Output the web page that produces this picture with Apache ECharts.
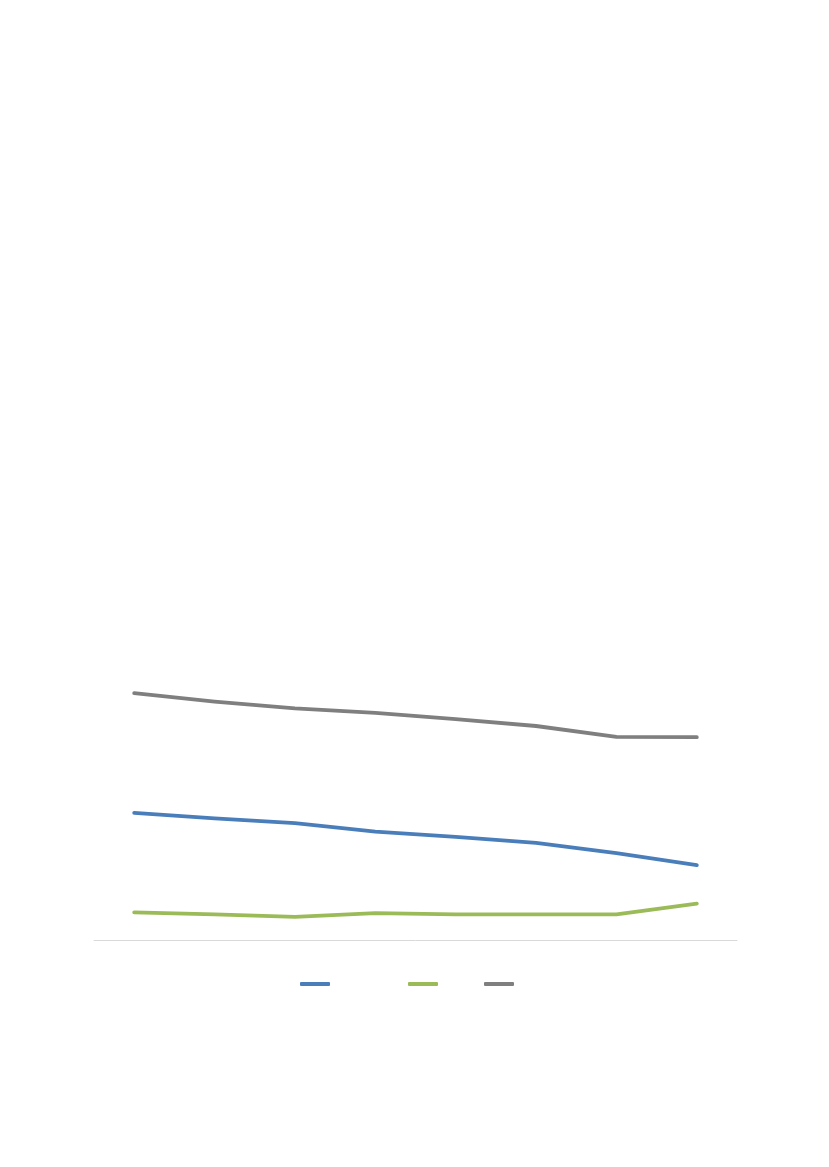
<!DOCTYPE html>
<html>
<head>
<meta charset="utf-8">
<script src="https://cdn.jsdelivr.net/npm/echarts@6/dist/echarts.min.js"></script>
<style>
html,body{margin:0;padding:0;background:#fff;}
#chart{width:829px;height:1167px;}
</style>
</head>
<body>
<div id="chart"></div>
<script>
const categories = ['1','2','3','4','5','6','7','8'];
const seriesNames = ['Series 1','Series 2','Series 3'];
const blueValues = [31.8, 30.4, 29.2, 27.1, 25.8, 24.3, 21.7, 18.7];
const greenValues = [6.9, 6.4, 5.8, 6.7, 6.4, 6.4, 6.4, 9.1];
const grayValues = [61.7, 59.6, 57.9, 56.8, 55.2, 53.5, 50.8, 50.7];

const colors = ['#4a7ebb', '#9bbb59', '#7f7f7f'];
const chart = echarts.init(document.getElementById('chart'));
const legendLefts = [300, 408, 484];
function mkLegend(i){
  return {
    data: [seriesNames[i]], left: legendLefts[i], top: 982,
    icon: 'roundRect', itemWidth: 30, itemHeight: 4,
    formatter: function(){ return ''; },
    textStyle: {color: 'rgba(0,0,0,0)', padding: 0},
    selectedMode: false, padding: 0, itemGap: 0
  };
}
chart.setOption({
  animation: false,
  color: colors,
  legend: [mkLegend(0), mkLegend(1), mkLegend(2)],
  grid: {left: 94, right: 92, top: 540, bottom: 227, containLabel: false},
  xAxis: {
    type: 'category', data: categories, boundaryGap: true,
    axisLine: {lineStyle: {color: '#d9d9d9', width: 1}},
    axisTick: {show: false}, axisLabel: {show: false}
  },
  yAxis: {
    type: 'value', min: 0, max: 100, show: false,
    splitLine: {show: false}
  },
  series: [
    {name: seriesNames[0], type: 'line', data: blueValues, showSymbol: false, symbol: 'none',
     lineStyle: {width: 3.8, color: colors[0], cap: 'round', join: 'round'}},
    {name: seriesNames[1], type: 'line', data: greenValues, showSymbol: false, symbol: 'none',
     lineStyle: {width: 3.8, color: colors[1], cap: 'round', join: 'round'}},
    {name: seriesNames[2], type: 'line', data: grayValues, showSymbol: false, symbol: 'none',
     lineStyle: {width: 3.8, color: colors[2], cap: 'round', join: 'round'}}
  ]
});
</script>
</body>
</html>
